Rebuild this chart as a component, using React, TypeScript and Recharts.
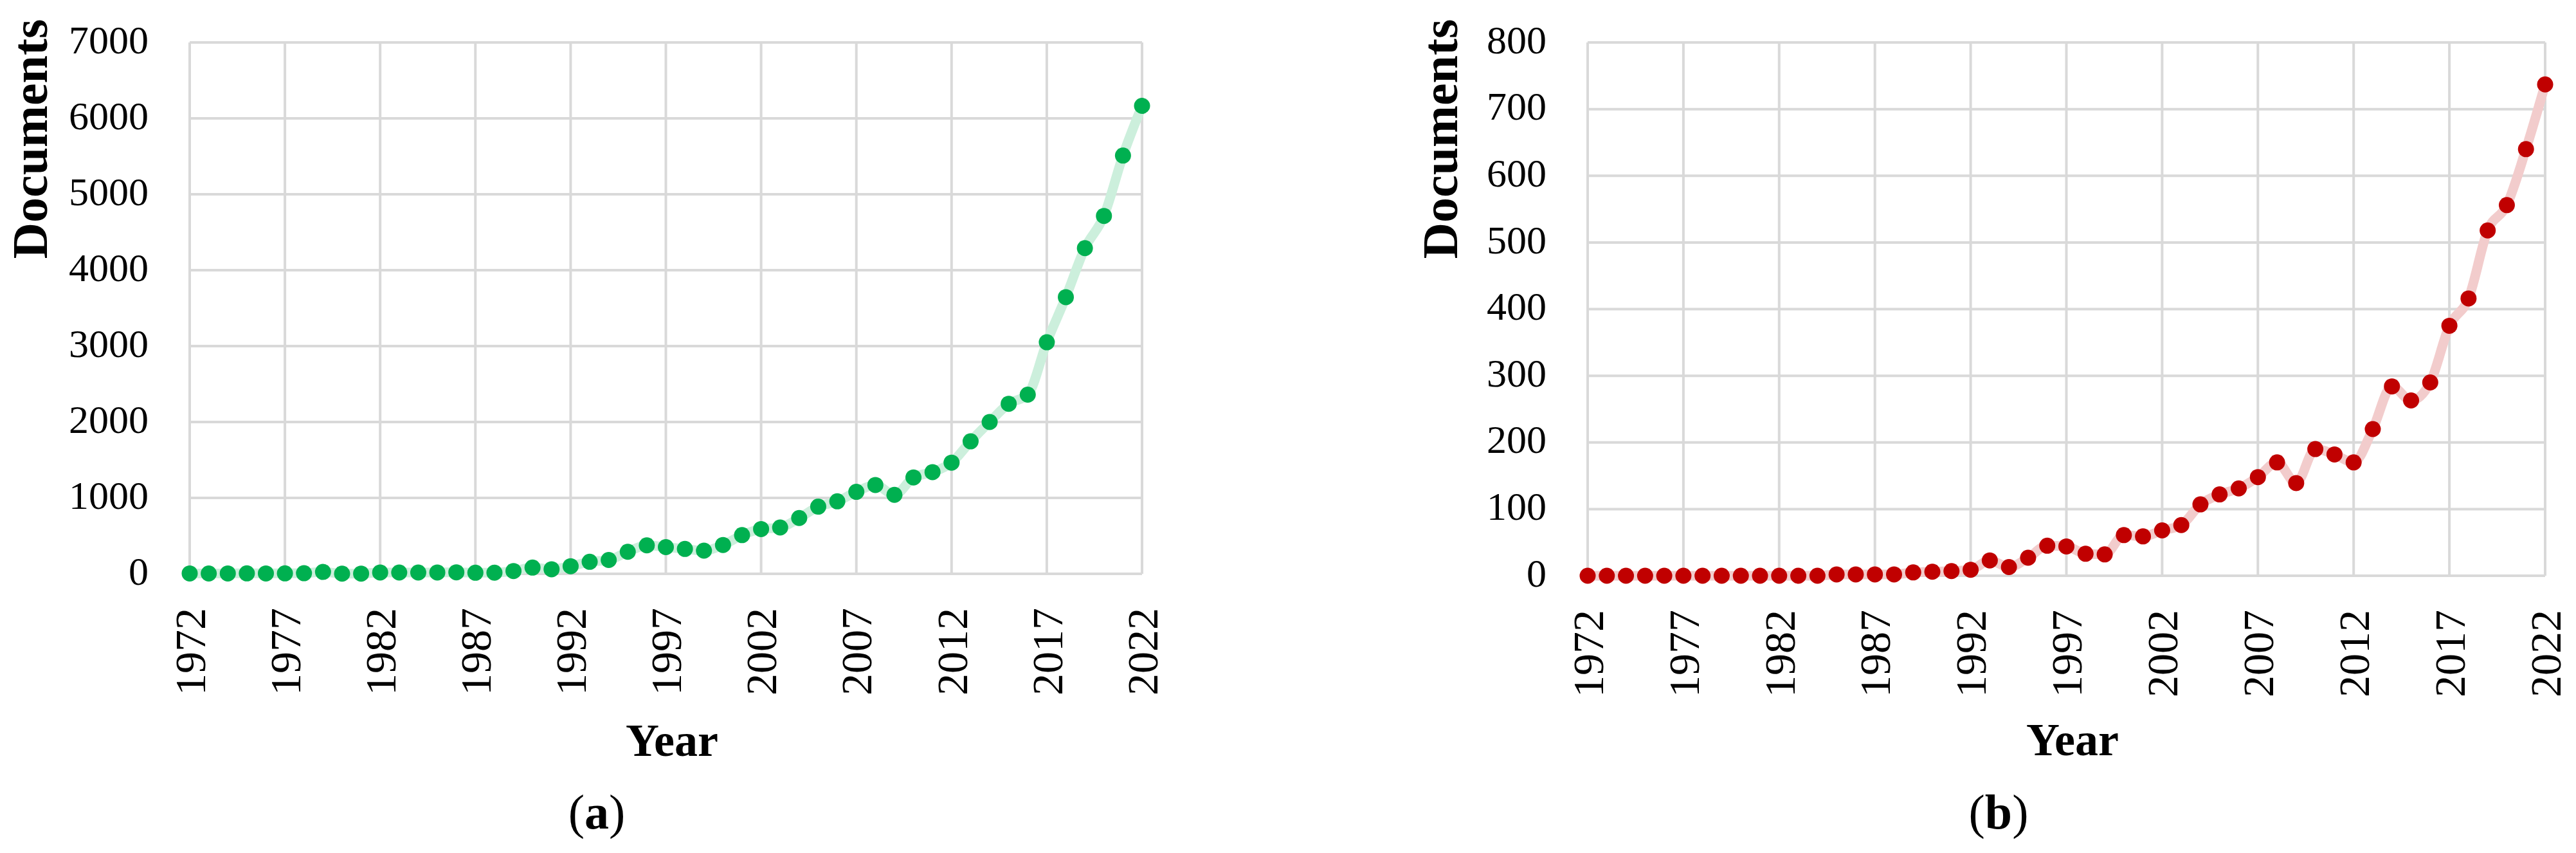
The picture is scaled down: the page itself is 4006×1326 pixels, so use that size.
import React from 'react'
import {
  LineChart,
  Line,
  XAxis,
  YAxis,
  CartesianGrid,
  Label,
} from 'recharts'

const years = [
  1972, 1973, 1974, 1975, 1976, 1977, 1978, 1979, 1980, 1981, 1982, 1983, 1984,
  1985, 1986, 1987, 1988, 1989, 1990, 1991, 1992, 1993, 1994, 1995, 1996, 1997,
  1998, 1999, 2000, 2001, 2002, 2003, 2004, 2005, 2006, 2007, 2008, 2009, 2010,
  2011, 2012, 2013, 2014, 2015, 2016, 2017, 2018, 2019, 2020, 2021, 2022,
]

// (a) all documents per year
const docsA = [
  5, 4, 5, 6, 5, 6, 8, 25, 2, 3, 18, 17, 17, 18, 20, 14, 15, 37, 82, 60, 100,
  158, 182, 290, 375, 352, 328, 305, 380, 510, 590, 610, 735, 885, 955, 1080,
  1170, 1040, 1270, 1340, 1465, 1745, 2000, 2240, 2360, 3050, 3645, 4290, 4715,
  5510, 6165,
]

// (b) subset of documents per year
const docsB = [
  0, 0, 0, 0, 0, 0, 0, 0, 0, 0, 0, 0, 0, 2, 2, 2, 2, 5, 6, 7, 9, 23, 13, 27, 45,
  44, 33, 32, 61, 59, 68, 76, 107, 122, 131, 148, 170, 139, 190, 182, 170, 220,
  284, 263, 290, 375, 416, 518, 556, 640, 737,
]

const yearTicks = [1972, 1977, 1982, 1987, 1992, 1997, 2002, 2007, 2012, 2017, 2022]
const ticksA = [0, 1000, 2000, 3000, 4000, 5000, 6000, 7000]
const ticksB = [0, 100, 200, 300, 400, 500, 600, 700, 800]

const dataA = years.map((y, i) => ({ year: y, docs: docsA[i] }))
const dataB = years.map((y, i) => ({ year: y, docs: docsB[i] }))

const FONT = '"Liberation Serif", "Times New Roman", serif'

const YearTick = (props: any) => {
  const { x, y, payload } = props
  const ty = y + 53
  return (
    <text
      x={x}
      y={ty}
      transform={`rotate(-90 ${x} ${ty})`}
      textAnchor="end"
      dy="0.35em"
      fontSize={68}
      fontFamily={FONT}
      fill="#000"
    >
      {payload.value}
    </text>
  )
}

const DocTick = (props: any) => {
  const { x, y, payload } = props
  return (
    <text
      x={x - 64}
      y={y}
      dy="0.27em"
      textAnchor="end"
      fontSize={62}
      fontFamily={FONT}
      fill="#000"
    >
      {payload.value}
    </text>
  )
}

type PanelProps = {
  data: { year: number; docs: number }[]
  ticks: number[]
  color: string
  lineColor: string
  width: number
  yAxisWidth: number
  marginRight: number
  marginBottom: number
  docLabelX: number
  yearLabelX: number
  yearLabelY: number
  caption: string
  captionX: number
}

function Panel(p: PanelProps) {
  return (
    <LineChart
      width={p.width}
      height={1326}
      data={p.data}
      margin={{ top: 66, right: p.marginRight, bottom: p.marginBottom, left: 0 }}
    >
      <CartesianGrid stroke="#D9D9D9" strokeWidth={4} />
      <XAxis
        dataKey="year"
        type="number"
        domain={[1972, 2022]}
        ticks={yearTicks}
        interval={0}
        axisLine={false}
        tickLine={false}
        tickSize={0}
        tickMargin={0}
        height={200}
        tick={<YearTick />}
      >
        <Label
          content={() => (
            <g>
              <text
                x={p.yearLabelX}
                y={p.yearLabelY}
                textAnchor="middle"
                fontSize={72}
                fontWeight="bold"
                fontFamily={FONT}
                fill="#000"
              >
                Year
              </text>
              <text
                x={p.captionX}
                y={1288}
                textAnchor="middle"
                fontSize={76}
                fontFamily={FONT}
                fill="#000"
              >
                (<tspan fontWeight="bold">{p.caption}</tspan>)
              </text>
            </g>
          )}
        />
      </XAxis>
      <YAxis
        type="number"
        domain={[0, p.ticks[p.ticks.length - 1]]}
        ticks={p.ticks}
        interval={0}
        width={p.yAxisWidth}
        axisLine={false}
        tickLine={false}
        tickSize={0}
        tickMargin={0}
        tick={<DocTick />}
      >
        <Label
          content={() => (
            <text
              x={p.docLabelX}
              y={216}
              transform={`rotate(-90 ${p.docLabelX} 216)`}
              textAnchor="middle"
              dy="0.33em"
              fontSize={78}
              fontWeight="bold"
              fontFamily={FONT}
              fill="#000"
            >
              Documents
            </text>
          )}
        />
      </YAxis>
      <Line
        type="monotone"
        dataKey="docs"
        stroke={p.lineColor}
        strokeWidth={15}
        dot={{ r: 12.5, fill: p.color, stroke: 'none', strokeWidth: 0 }}
        activeDot={false}
        isAnimationActive={false}
      />
    </LineChart>
  )
}

export default function App() {
  return (
    <div
      style={{
        position: 'absolute',
        left: 0,
        top: 0,
        width: 4006,
        height: 1326,
        background: '#fff',
        overflow: 'hidden',
      }}
    >
      <div style={{ position: 'absolute', left: 0, top: 0 }}>
        <Panel
          data={dataA}
          ticks={ticksA}
          color="#00B050"
          lineColor="#CCEFDC"
          width={1850}
          yAxisWidth={295}
          marginRight={74}
          marginBottom={234}
          docLabelX={47}
          yearLabelX={1045}
          yearLabelY={1175}
          caption="a"
          captionX={928}
        />
      </div>
      <div style={{ position: 'absolute', left: 2150, top: 0 }}>
        <Panel
          data={dataB}
          ticks={ticksB}
          color="#C00000"
          lineColor="#F2CCCC"
          width={1856}
          yAxisWidth={319}
          marginRight={48}
          marginBottom={231}
          docLabelX={90}
          yearLabelX={1073}
          yearLabelY={1174}
          caption="b"
          captionX={958}
        />
      </div>
    </div>
  )
}
